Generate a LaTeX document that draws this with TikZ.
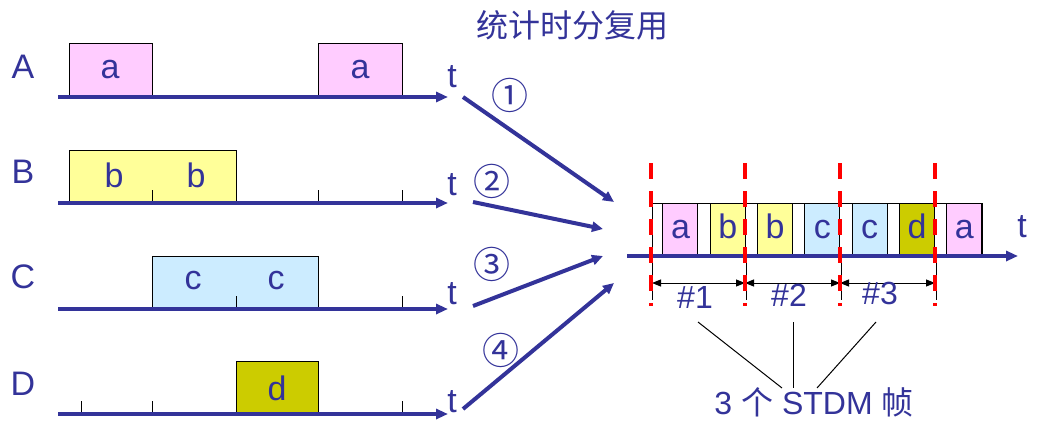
\documentclass[tikz,border=0pt]{standalone}
\usepackage{fontspec}
\setmainfont{Liberation Sans}
\newfontfamily\cjk{Noto Sans CJK SC}
\usetikzlibrary{arrows.meta}
\definecolor{navy}{HTML}{333399}
\definecolor{pinkbox}{HTML}{FFCCFF}
\definecolor{yellowbox}{HTML}{FFFF99}
\definecolor{bluebox}{HTML}{CCECFF}
\definecolor{olivebox}{HTML}{CCCC00}

\begin{document}
\begin{tikzpicture}[x=1pt, y=-1pt,
	lbl/.style={text=navy, font=\fontsize{34}{40}\selectfont, inner sep=0pt, anchor=base},
	txt/.style={text=navy, font=\fontsize{32}{38}\selectfont, inner sep=0pt},
	num/.style={text=navy, font=\cjk\fontsize{37}{42}\selectfont, inner sep=0pt},
	slot/.style={draw=black, line width=1pt},
	axis/.style={navy, line width=4pt, -{Triangle[length=12pt, width=10pt]}},
	feed/.style={navy, line width=4pt, -{Triangle[length=11pt, width=10pt]}},
	dim/.style={black, line width=1pt, {Triangle[length=9pt, width=7pt]}-{Triangle[length=9pt, width=7pt]}},
	cut/.style={red, line width=4pt, dash pattern=on 16pt off 12pt},
	lead/.style={black, line width=1pt}]
	\useasboundingbox (0,0) rectangle (1040,428);
	\node[txt] (title) at (572,25) {\cjk 统计时分复用};
	\draw[slot, fill=pinkbox] (69,44) rectangle (152,97);
	\draw[slot, fill=pinkbox] (318,44) rectangle (402,97);
	\draw[slot, fill=yellowbox] (69,150) rectangle (236,203);
	\draw[slot, fill=bluebox] (152,256) rectangle (318,309);
	\draw[slot, fill=olivebox] (236,361) rectangle (318,414);
	\foreach \x/\y in {152/203, 318/203, 402/203, 236/309, 402/309, 81/414, 152/414, 402/414} {\draw[line width=1pt] (\x,\y) -- (\x,\y-13);}
	\foreach \n/\y/\b/\tb in {A/97/78/87, B/203/183/195, C/309/288/304, D/414/395/412} {
		\draw[axis] (58,\y) -- (448,\y);
		\node[lbl] (lab\n) at (23,\b) {\n};
		\node[lbl] (t\n) at (452,\tb) {t};
	}
	\node[lbl] (a1) at (110,78) {a};
	\node[lbl] (a2) at (360,78) {a};
	\node[lbl] (b1) at (114,187) {b};
	\node[lbl] (b2) at (196,187) {b};
	\node[lbl] (c1) at (193,289) {c};
	\node[lbl] (c2) at (276,289) {c};
	\node[lbl] (d1) at (277,400) {d};
	\coordinate (i1) at (463,97);  \coordinate (o1) at (614,202);
	\coordinate (i2) at (473,202); \coordinate (o2) at (603,229);
	\coordinate (i3) at (473,306); \coordinate (o3) at (603,256);
	\coordinate (i4) at (463,409); \coordinate (o4) at (614,283);
	\foreach \k in {1,...,4} {\draw[feed] (i\k) -- (o\k);}
	\node[num] (n1) at (510,95) {①};
	\node[num] (n2) at (492,181) {②};
	\node[num] (n3) at (492,264) {③};
	\node[num] (n4) at (501,350) {④};
	\draw[slot, fill=white] (652,203) rectangle (982,256);
	\foreach \k/\ch/\col in {0/a/pinkbox, 1/b/yellowbox, 2/b/yellowbox, 3/c/bluebox, 4/c/bluebox, 5/d/olivebox, 6/a/pinkbox} {
		\pgfmathsetmacro\xs{650.5+47.3*\k}
		\draw[slot, fill=\col] (\xs+12.3,203) rectangle (\xs+47.3,256);
		\node[lbl] (s\k) at (\xs+30,238) {\ch};
	}
	\draw[axis] (627,256) -- (1018,256);
	\node[lbl] (tS) at (1022,237) {t};
	\foreach \x in {651,745,840,935} {\draw[lead] (\x+1,256) -- (\x+1,300);}
	\draw[dim] (652,283) -- (745,283);
	\draw[dim] (745,283) -- (840,283);
	\draw[dim] (840,283) -- (935,283);
	\foreach \x in {650.5,745,840,935} {\draw[cut] (\x,163) -- (\x,306);}
	\node[txt] (f1) at (695,297) {\#1};
	\node[txt] (f2) at (789,295) {\#2};
	\node[txt] (f3) at (880,293) {\#3};
	\node[txt] (stdm) at (814,402) {3 {\cjk 个} STDM {\cjk 帧}};
	\coordinate (k1) at (698,322); \coordinate (q1) at (782,388);
	\coordinate (k2) at (793,322); \coordinate (q2) at (793,388);
	\coordinate (k3) at (876,322); \coordinate (q3) at (817,388);
	\foreach \k in {1,2,3} {\draw[lead] (k\k) -- (q\k);}
\end{tikzpicture}
\end{document}
